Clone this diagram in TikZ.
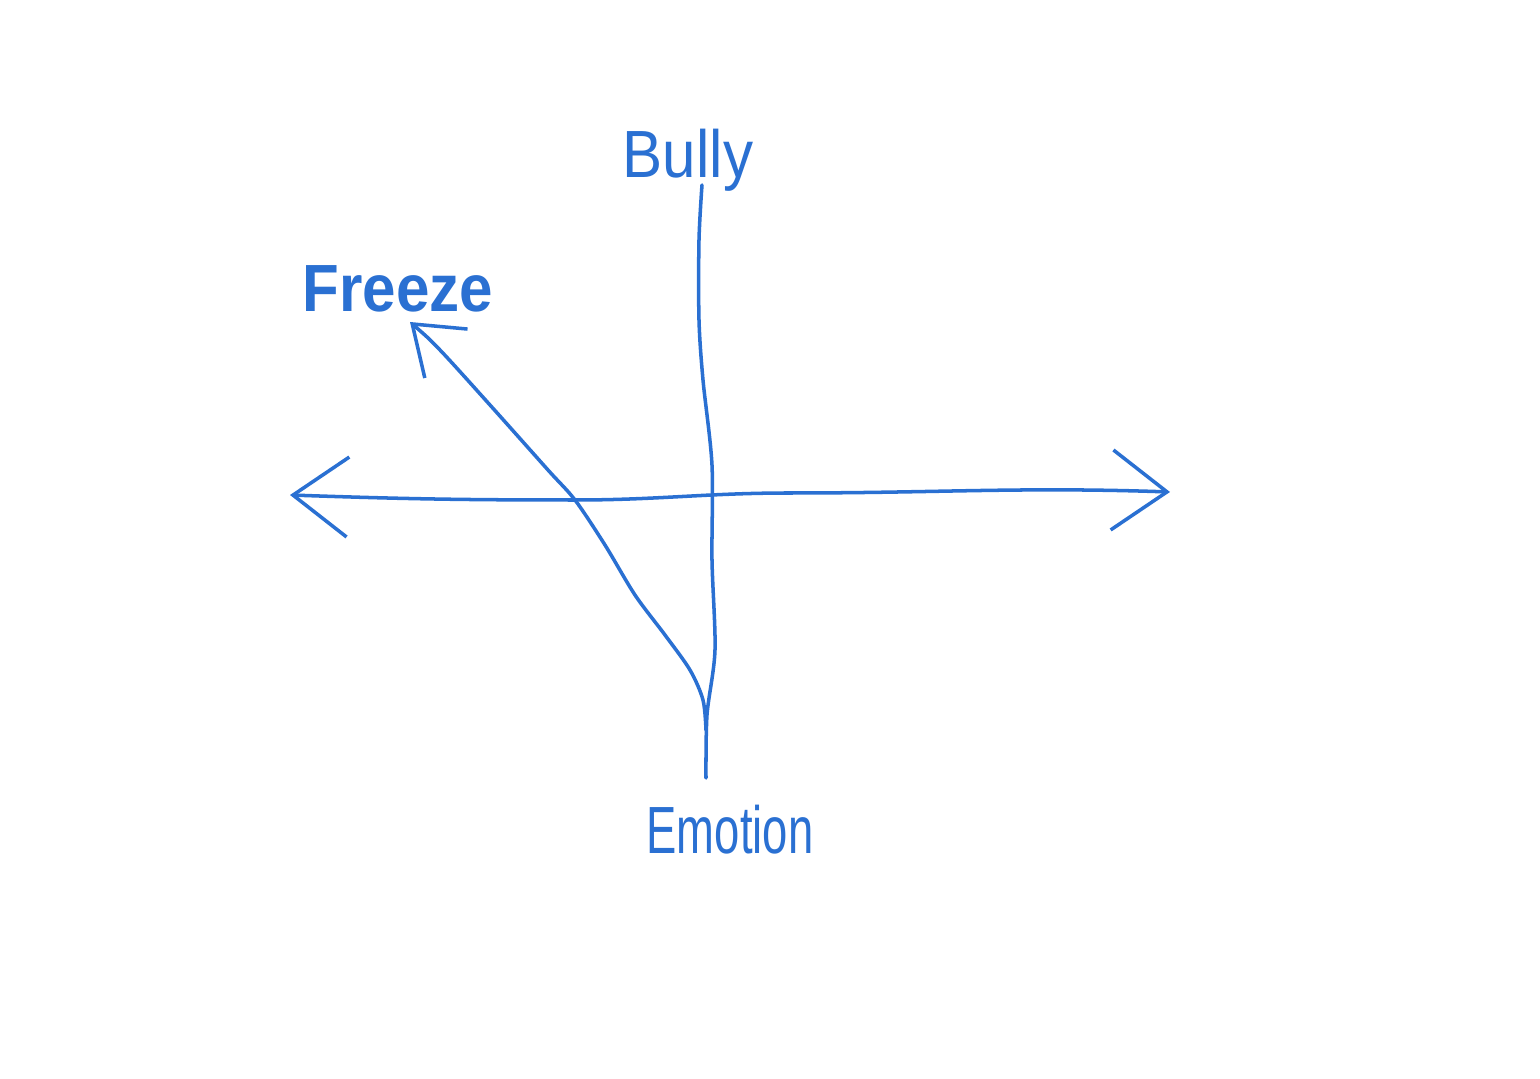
\documentclass[tikz,border=0pt]{standalone}
\usepackage{fontspec}
\usepackage{graphicx}
\setmainfont{Liberation Sans}
\usetikzlibrary{arrows.meta}

\definecolor{ink}{RGB}{42,112,210}

\begin{document}
\begin{tikzpicture}[
    ink/.style={draw=ink, line width=1pt, line cap=round, line join=round},
    barb/.tip={Straight Barb[length=5.5mm, width=8mm]},
    smallbarb/.tip={Straight Barb[length=4.5mm, width=6.5mm]},
    lbl/.style={text=ink, font=\fontsize{19}{22}\selectfont, inner sep=1pt},
  ]
    \useasboundingbox[fill=white] (0,0) rectangle (15.40,10.79);

    % labels
    \node[lbl] (bully) at (6.88,9.19) {\scalebox{0.9}[1]{Bully}};
    \node[lbl, font=\bfseries\fontsize{19}{22}\selectfont] (freeze) at (3.98,7.90) {\scalebox{0.9}[1]{Freeze}};
    \node[lbl] (emotion) at (7.30,2.49) {\scalebox{0.68}[1]{Emotion}};

    % axis ends
    \coordinate (west) at (2.90,5.84);
    \coordinate (east) at (11.70,5.87);
    \coordinate (top) at (7.02,8.94);
    \coordinate (bottom) at (7.06,3.01);
    \coordinate (fz) at (4.10,7.57);
    \coordinate (join) at (7.06,3.49);

    % horizontal axis
    \draw[ink, barb-barb] (west) to[out=-2,in=180] (5.75,5.79)
      to[out=0,in=180] (7.90,5.86) to[out=0,in=178] (east);

    % vertical axis
    \draw[ink] plot[smooth, tension=0.5] coordinates {(top) (6.99,8.39) (6.99,7.59)
      (7.03,6.99) (7.12,6.14) (7.12,5.19) (7.15,4.29) (7.07,3.64) (bottom)};

    % toward freeze
    \draw[ink, smallbarb-] plot[smooth, tension=0.5] coordinates {(fz)
      (4.40,7.29) (4.90,6.74) (5.48,6.09) (5.75,5.79) (6.05,5.34)
      (6.35,4.84) (6.65,4.44) (6.90,4.09) (7.03,3.79) (join)};
\end{tikzpicture}
\end{document}
